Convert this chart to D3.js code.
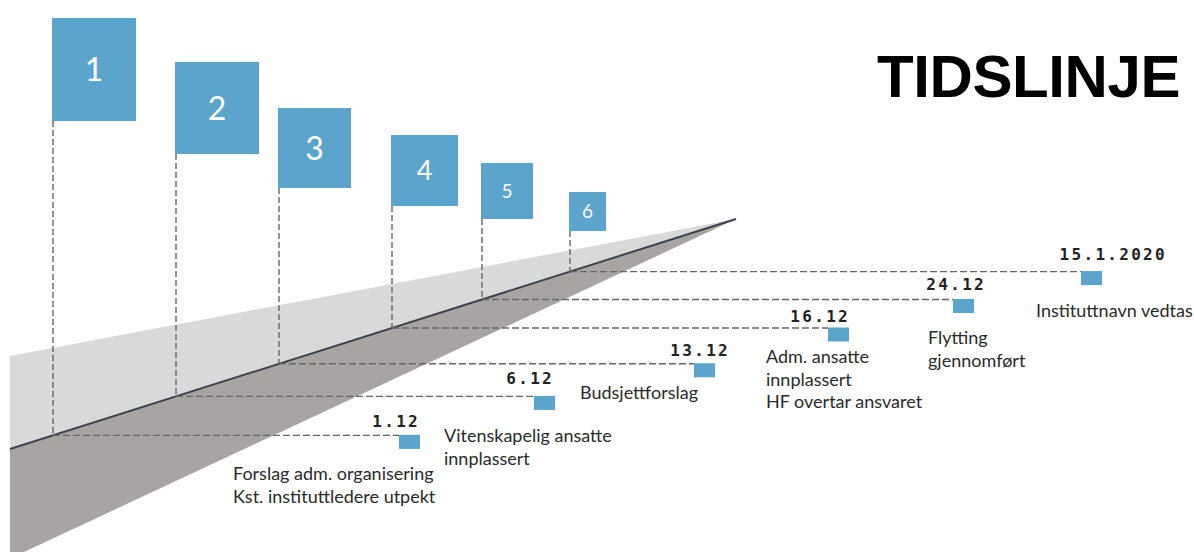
<!DOCTYPE html>
<html>
<head>
<meta charset="utf-8">
<script src="https://cdn.jsdelivr.net/npm/d3@7"></script>
<style>
  html, body { margin: 0; padding: 0; background: #fff; }
  svg { display: block; }
</style>
</head>
<body>
<svg id="chart" width="1194" height="552"></svg>
<script>
// ---------- data ----------
const title = "TIDSLINJE";
const flagNumbers = ["1", "2", "3", "4", "5", "6"];
const dates = ["1.12", "6.12", "13.12", "16.12", "24.12", "15.1.2020"];
const descriptions = [
  ["Forslag adm. organisering", "Kst. instituttledere utpekt"],
  ["Vitenskapelig ansatte", "innplassert"],
  ["Budsjettforslag"],
  ["Adm. ansatte", "innplassert", "HF overtar ansvaret"],
  ["Flytting", "gjennomført"],
  ["Instituttnavn vedtas"]
];

// ---------- layout ----------
const W = 1194, H = 552;
const svg = d3.select("#chart");
svg.append("rect").attr("width", W).attr("height", H).attr("fill", "#fff");

const BLUE = "#5ba4cc";
const steps = d3.range(flagNumbers.length);

// perspective position of each step along the timeline
const stepX = d3.scaleLinear().domain(steps).range([53, 176, 279, 392, 482, 570]);
// timeline: straight line from lower-left to vanishing tip
const lineStart = [10, 449], tip = [736, 219];
const lineY = d3.scaleLinear().domain([lineStart[0], tip[0]]).range([lineStart[1], tip[1]]);

// flag sizes shrink with perspective
const flagW = d3.scaleLinear().domain(steps).range([84, 84, 73, 67, 52, 37]);
const flagH = d3.scaleLinear().domain(steps).range([103, 92, 80, 71, 56, 39]);
const flagBottom = d3.scaleLinear().domain(steps).range([121, 154, 188, 206, 219, 231]);
const flagFont = d3.scaleLinear().domain(steps).range([32, 32, 32, 27, 19, 19]);

// markers to the right
const markerX = d3.scaleLinear().domain(steps).range([399, 534, 694, 828, 953, 1081]);
const markerW = 21, markerH = 14;
const dateRight = d3.scaleLinear().domain(steps).range([420, 554, 730, 850, 986, 1167]);
const dateLift = d3.scaleLinear().domain(steps).range([8, 12, 8, 6, 9, 12]);
const descX = d3.scaleLinear().domain(steps).range([233, 444, 580, 766, 928, 1036]);
const descY = d3.scaleLinear().domain(steps).range([480, 442, 399, 363, 344, 317]);
const lineGap = 22.5;

// ---------- ground planes ----------
svg.append("polygon")
  .attr("points", [[10, 356], tip, lineStart].map(p => p.join(",")).join(" "))
  .attr("fill", "#d9d9d9");
svg.append("polygon")
  .attr("points", [lineStart, tip, [24, 552], [10, 552]].map(p => p.join(",")).join(" "))
  .attr("fill", "#a8a4a4");
svg.append("line")
  .attr("x1", lineStart[0]).attr("y1", lineStart[1])
  .attr("x2", tip[0]).attr("y2", tip[1])
  .attr("stroke", "#3f4450").attr("stroke-width", 2);

// ---------- dashed guides ----------
const g = svg.append("g");
steps.forEach(i => {
  const x = stepX(i), y = lineY(x);
  g.append("line")
    .attr("x1", x).attr("y1", flagBottom(i)).attr("x2", x).attr("y2", y)
    .attr("stroke", "#666").attr("stroke-width", 1.4).attr("stroke-dasharray", "6,3");
  g.append("line")
    .attr("x1", x).attr("y1", y).attr("x2", markerX(i)).attr("y2", y)
    .attr("stroke", "#666").attr("stroke-width", 1.4).attr("stroke-dasharray", "7,3");
});

// ---------- flags ----------
const flags = svg.selectAll("g.flag").data(steps).join("g").attr("class", "flag");
flags.append("rect")
  .attr("x", i => stepX(i) - 1)
  .attr("y", i => flagBottom(i) - flagH(i))
  .attr("width", i => flagW(i))
  .attr("height", i => flagH(i))
  .attr("fill", BLUE);
flags.append("text")
  .attr("x", i => stepX(i) - 1 + flagW(i) / 2)
  .attr("y", i => flagBottom(i) - flagH(i) / 2)
  .attr("dy", "0.36em")
  .attr("text-anchor", "middle")
  .attr("font-family", "Lato, 'Open Sans', sans-serif")
  .attr("font-size", i => flagFont(i))
  .attr("fill", "#ffffff")
  .text(i => flagNumbers[i]);

// ---------- markers and labels ----------
const ev = svg.selectAll("g.ev").data(steps).join("g").attr("class", "ev");
ev.append("rect")
  .attr("x", i => markerX(i))
  .attr("y", i => lineY(stepX(i)) - 0.5)
  .attr("width", markerW).attr("height", markerH)
  .attr("fill", BLUE);
ev.append("text")
  .attr("x", i => dateRight(i))
  .attr("y", i => lineY(stepX(i)) - dateLift(i))
  .attr("text-anchor", "end")
  .attr("font-family", "'DejaVu Sans Mono', monospace")
  .attr("font-weight", "bold")
  .attr("font-size", 16)
  .attr("letter-spacing", 2.3)
  .attr("fill", "#222")
  .text(i => dates[i]);
ev.append("text")
  .attr("x", i => descX(i))
  .attr("y", i => descY(i))
  .attr("font-family", "Lato, 'Open Sans', sans-serif")
  .attr("font-size", 18)
  .attr("fill", "#2a2a2a")
  .selectAll("tspan")
  .data(i => descriptions[i].map(t => ({ t, x: descX(i) })))
  .join("tspan")
  .attr("x", d => d.x)
  .attr("dy", (d, k) => k === 0 ? 0 : lineGap)
  .text(d => d.t);

// ---------- title ----------
svg.append("text")
  .attr("x", 877).attr("y", 97)
  .attr("font-family", "'Liberation Sans', Arial, sans-serif")
  .attr("font-weight", "bold")
  .attr("font-size", 60)
  .attr("letter-spacing", -0.4)
  .attr("fill", "#000")
  .text(title);
</script>
</body>
</html>
